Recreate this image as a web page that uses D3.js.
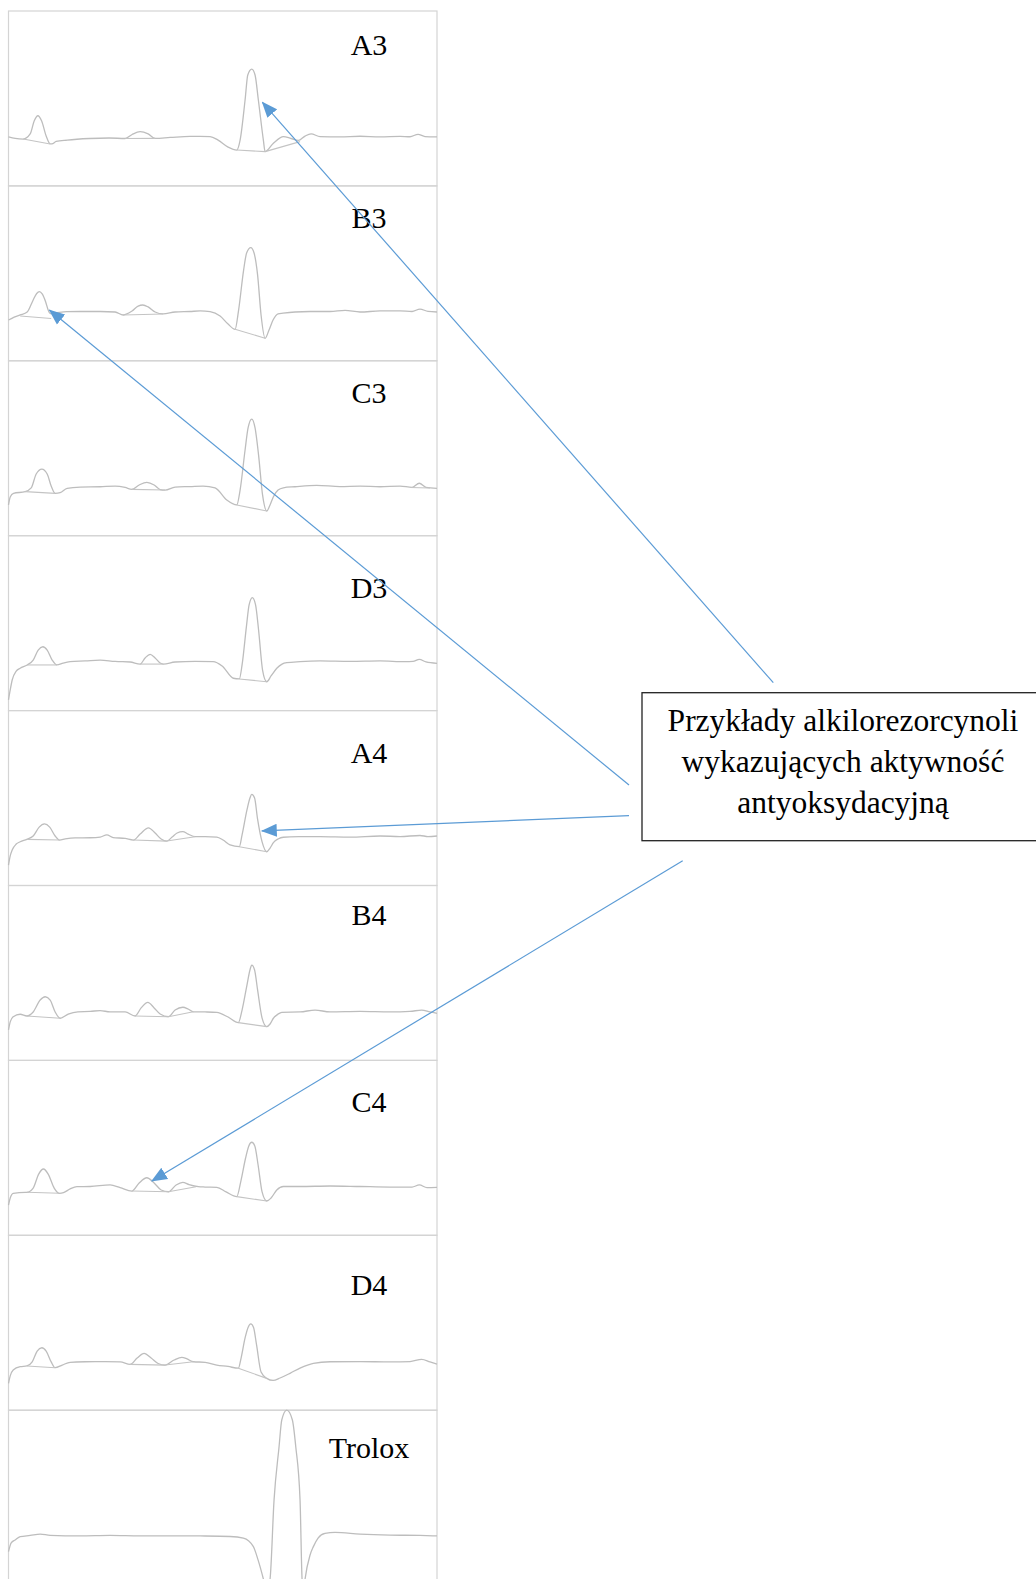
<!DOCTYPE html>
<html>
<head>
<meta charset="utf-8">
<script src="https://cdn.jsdelivr.net/npm/d3@7"></script>
<style>
  body { margin: 0; background: #fff; }
  text { font-family: "Liberation Serif", "Times New Roman", serif; }
</style>
</head>
<body>
<div id="chart"></div>
<script>
// sample names, top to bottom
var panels = ["A3", "B3", "C3", "D3", "A4", "B4", "C4", "D4", "Trolox"];

// traces: [run time (% of run), signal (% of panel scale)]
var traceA3 = [[0,28.1],[1.56,27.2],[3.43,26.8],[5.06,29.7],[5.99,37.1],[6.86,40.1],[7.74,37.1],[8.79,28.5],[9.73,24.0],[10.12,24.0],[11.13,25.4],[13.69,26.2],[18.9,27.1],[23.5,27.4],[27.22,27.1],[28.85,29.4],[30.72,31.0],[32.59,29.7],[34.22,27.2],[37.72,27.7],[42.38,28.3],[47.05,28.2],[48.91,26.2],[51.24,22.2],[53.27,20.5],[54.05,26.2],[55.21,49.1],[55.84,63.4],[56.77,66.8],[57.54,63.4],[58.31,49.1],[59.48,26.2],[59.88,19.6],[61.82,24.4],[64.15,28.2],[65.94,27.1],[67.65,26.0],[69.21,28.5],[70.61,29.7],[72.71,28.2],[77.37,28.0],[82.04,28.4],[86.7,28.0],[91.37,28.3],[93.7,28.1],[95.57,29.5],[97.2,28.2],[100,28.0]];
var traceB3 = [[0,23.3],[1.33,25.0],[2.73,26.2],[4.36,27.9],[5.76,34.8],[6.58,38.5],[7.23,39.5],[7.86,38.2],[8.68,33.6],[9.26,29.0],[9.73,27.0],[10.89,27.3],[13.62,28.1],[16.73,28.2],[21.39,28.2],[24.89,27.9],[26.76,26.2],[28.85,28.5],[30.25,31.3],[31.35,31.9],[32.59,30.8],[34.22,27.9],[36.09,26.8],[38.88,27.9],[42.38,28.2],[44.72,28.5],[47.05,28.1],[49.38,25.6],[51.24,21.0],[52.88,18.0],[53.7,29.0],[54.87,51.9],[55.57,61.6],[56.54,64.7],[57.31,61.6],[58.13,49.1],[58.94,26.2],[59.88,12.9],[60.8,17.6],[61.74,23.3],[62.91,26.8],[64.08,27.2],[66.87,27.9],[70.37,28.2],[75.04,28.2],[78.54,28.8],[82.04,27.9],[86.7,28.5],[91.37,28.5],[94.17,28.2],[96.03,29.6],[97.9,28.2],[100,27.9]];
var traceC3 = [[0,17.6],[0.4,22.1],[1.17,24.2],[3.9,25.2],[5.3,27.3],[6.46,35.3],[7.79,38.1],[9.03,35.3],[9.96,28.4],[10.89,24.2],[12.06,24.6],[13.69,27.1],[16.73,27.8],[21.39,28.0],[24.89,28.4],[27.22,27.6],[28.78,26.5],[30.49,29.0],[32.28,30.5],[33.99,29.0],[35.39,26.4],[36.55,26.1],[38.88,27.8],[42.38,28.1],[45.42,28.4],[48.21,27.3],[50.94,20.4],[53.27,17.6],[54.05,26.1],[55.21,49.0],[55.91,61.6],[56.77,66.7],[57.54,61.6],[58.36,46.1],[59.29,23.3],[60.27,14.1],[61.04,17.6],[61.82,22.3],[62.91,26.1],[64.15,27.4],[66.87,28.0],[71.93,28.8],[77.37,28.1],[82.04,28.4],[86.7,28.0],[91.37,28.4],[94.17,27.6],[95.87,30.0],[97.43,27.6],[100,27.1]];
var traceD3 = [[0,6.1],[0.4,11.8],[0.86,17.5],[1.8,22.6],[2.73,24.2],[4.36,26.1],[5.76,28.9],[6.93,34.6],[8.02,36.5],[9.03,34.6],[10.19,28.9],[11.29,26.1],[12.76,27.2],[14.39,28.0],[17.89,28.4],[21.39,28.9],[24.89,28.1],[28.39,27.8],[30.72,26.6],[31.88,30.1],[33.05,32.2],[34.22,30.1],[35.39,27.2],[36.16,26.6],[38.88,27.8],[43.55,28.1],[47.75,28.0],[49.85,25.5],[52.48,18.5],[53.87,18.1],[54.51,26.1],[55.56,48.9],[56.15,60.4],[56.91,64.6],[57.66,60.4],[58.36,46.1],[59.29,23.2],[60.27,16.5],[61.27,19.8],[62.61,24.2],[63.84,26.6],[64.94,27.4],[68.04,28.0],[72.71,28.4],[79.71,28.1],[86.7,28.4],[92.54,28.0],[94.4,28.1],[95.87,29.3],[97.43,27.8],[100,27.0]];
var traceA4 = [[0,11.7],[0.4,16.9],[0.86,20.3],[1.8,23.7],[2.73,25.0],[4.29,26.4],[5.76,28.3],[7.16,33.4],[8.4,35.2],[9.61,33.4],[10.89,28.3],[11.9,26.0],[13.23,26.6],[15.56,27.2],[19.06,27.3],[21.39,27.7],[22.95,28.9],[24.42,27.4],[27.22,26.9],[29.16,26.0],[30.72,29.4],[32.66,33.0],[34.22,30.0],[35.62,26.6],[36.95,25.4],[38.19,27.7],[39.35,30.0],[40.68,30.8],[41.92,29.4],[43.55,27.9],[45.88,28.0],[48.61,27.7],[50.08,26.0],[51.71,23.2],[53.87,22.2],[54.51,28.9],[55.65,43.2],[56.35,50.0],[56.77,52.1],[57.43,50.0],[58.13,37.9],[59.18,24.9],[60.27,19.3],[61.04,21.4],[61.82,24.5],[62.91,26.6],[64.15,27.6],[68.04,27.9],[72.71,28.0],[79.71,27.7],[86.7,28.3],[91.37,28.0],[96.03,28.6],[97.9,28.0],[100,28.3]];
var traceB4 = [[0,17.4],[0.4,22.0],[1.1,25.0],[2.73,26.4],[4.29,25.4],[5.76,27.7],[7.39,34.5],[8.56,36.4],[9.73,34.5],[10.89,27.7],[12.06,24.1],[13.93,26.5],[16.19,27.8],[19.06,28.0],[21.39,28.5],[23.72,27.7],[27.22,27.7],[29.55,25.4],[30.95,30.0],[32.52,33.2],[33.99,30.0],[35.39,26.5],[37.32,25.0],[38.88,28.8],[40.68,30.4],[41.92,29.4],[43.15,27.8],[45.88,27.7],[48.61,27.4],[51.24,24.8],[53.64,21.6],[54.51,28.8],[55.65,43.1],[56.35,51.7],[56.77,54.5],[57.43,51.7],[58.13,40.3],[59.18,24.2],[60.27,19.3],[61.04,20.8],[61.82,24.1],[62.91,26.5],[63.77,27.5],[68.04,27.7],[71.54,28.8],[75.04,27.7],[82.04,28.0],[89.03,27.7],[93.7,28.0],[96.43,28.8],[98.37,27.7],[100,26.9]];
var traceC4 = [[0,17.3],[0.4,21.3],[1.1,24.0],[3.9,24.6],[4.29,24.6],[5.76,27.0],[7.04,35.0],[8.16,37.9],[9.26,35.0],[10.66,27.0],[11.9,24.0],[12.83,24.4],[14.39,26.5],[15.96,27.8],[19.06,27.9],[23.72,28.8],[26.06,27.3],[28.78,25.3],[30.49,29.9],[32.28,32.9],[33.99,29.9],[35.62,25.9],[37.32,24.9],[39.12,28.8],[40.68,30.3],[42.15,29.0],[44.32,27.8],[45.88,27.6],[48.61,27.4],[50.78,24.8],[53.27,22.1],[54.28,31.6],[55.33,44.2],[56.08,51.1],[56.77,53.2],[57.48,51.1],[58.25,40.2],[59.18,24.8],[60.27,19.6],[61.27,21.3],[62.61,25.9],[64.15,27.9],[68.04,27.9],[75.04,28.2],[82.04,27.9],[89.03,27.6],[94.17,27.6],[95.87,28.8],[97.66,27.3],[100,27.4]];
var traceD4 = [[0,15.4],[0.4,19.6],[1.1,23.0],[2.73,24.9],[4.29,25.3],[5.53,27.6],[6.69,33.8],[7.79,35.7],[8.79,33.8],[9.96,27.6],[10.89,24.3],[12.53,25.8],[14.39,27.4],[17.89,27.7],[22.56,27.8],[26.06,27.6],[28.39,26.2],[30.02,29.8],[31.65,32.5],[33.29,29.8],[34.92,26.7],[36.55,25.8],[38.65,28.7],[40.45,30.2],[41.68,29.3],[43.15,27.7],[45.88,27.4],[48.61,25.8],[51.24,25.0],[53.64,24.0],[54.28,29.8],[55.21,41.3],[55.91,47.3],[56.54,49.3],[57.19,47.3],[57.89,37.3],[58.94,21.8],[60.27,18.2],[61.74,17.0],[63.38,18.4],[65.71,21.1],[68.04,24.1],[71.15,26.8],[75.04,27.7],[82.04,27.8],[89.03,27.6],[93.7,27.8],[96.43,29.1],[98.37,27.6],[100,26.4]];
var traceTrolox = [[0,19.1],[0.63,24.1],[1.56,25.8],[2.73,27.7],[5.06,28.4],[7.39,29.2],[9.73,28.4],[16.73,28.1],[23.72,28.4],[30.72,28.1],[37.72,28.2],[44.72,28.1],[51.71,27.8],[54.82,26.9],[57.15,22.0],[58.24,14.4],[59.48,3.5],[60.23,-4.0],[61.04,3.5],[61.97,48.6],[63.14,79.1],[63.77,94.4],[64.94,100],[66.25,94.4],[67.04,79.1],[68.04,48.6],[68.51,3.5],[68.86,-4.0],[69.21,3.5],[70.38,17.2],[71.15,22.0],[72.24,26.9],[73.87,29.6],[76.21,30.1],[82.04,29.2],[89.03,28.6],[96.03,28.4],[100,28.1]];

// integration baselines drawn under the peaks
var baseA3 = [[[3.43,26.8],[9.73,24.0]], [[27.22,27.1],[34.22,27.2]], [[53.27,20.5],[59.88,19.6]], [[59.88,19.6],[68.04,25.3]]];
var baseB3 = [[[2.73,25.6],[9.96,24.2]], [[26.76,26.2],[36.09,26.8]], [[52.88,18.0],[59.88,12.9]]];
var baseC3 = [[[3.9,25.2],[10.89,24.2]], [[28.78,26.5],[36.55,26.1]], [[53.27,17.6],[60.27,14.1]], [[93.7,27.6],[98.37,27.3]]];
var baseD3 = [[[4.36,26.1],[11.29,26.1]], [[30.72,26.6],[36.16,26.6]], [[53.87,18.1],[60.27,16.5]]];
var baseA4 = [[[4.29,26.4],[11.9,26.0]], [[29.16,26.0],[36.95,25.4]], [[36.95,25.4],[43.55,27.9]], [[53.87,22.2],[60.27,19.3]]];
var baseB4 = [[[4.29,25.4],[12.06,24.1]], [[29.55,25.4],[37.32,25.0]], [[37.32,25.0],[43.15,27.8]], [[53.64,21.6],[60.27,19.3]]];
var baseC4 = [[[4.29,24.6],[11.9,24.0]], [[28.78,25.3],[37.32,24.9]], [[37.32,24.9],[43.78,27.8]], [[53.27,22.1],[60.27,19.6]]];
var baseD4 = [[[4.29,25.3],[10.89,24.3]], [[28.39,26.2],[36.55,25.8]], [[36.55,25.8],[43.15,27.7]], [[53.64,24.0],[60.27,18.2]]];
var baseTrolox = [];

var traces = [traceA3, traceB3, traceC3, traceD3, traceA4, traceB4, traceC4, traceD4, traceTrolox];
var baselines = [baseA3, baseB3, baseC3, baseD3, baseA4, baseB4, baseC4, baseD4, baseTrolox];

// annotation
var noteLines = ["Przykłady alkilorezorcynoli", "wykazujących aktywność", "antyoksydacyjną"];
var noteTargets = [
  { panel: "A3", t: 59.25, v: 47.8 },
  { panel: "B3", t: 9.56, v: 29.0 },
  { panel: "A4", t: 59.11, v: 31.2 },
  { panel: "C4", t: 33.45, v: 31.0 }
];

// layout
var width = 1036, height = 1579;
var plotLeft = 8.5, plotRight = 437, plotTop = 11, panelH = 174.9;
var labelX = 369;
var labelDy = [44, 41.8, 42.5, 62.6, 52, 39.5, 51.3, 59.7, 48.1];
var box = { x: 642, y: 692.7, w: 410, h: 148 };
var noteX = 843;
var arrowFrom = [[773.3, 682.7], [629, 785], [629, 815.7], [682.7, 860.7]];

var x = d3.scaleLinear().domain([0, 100]).range([plotLeft, plotRight]);
var band = d3.scaleBand().domain(panels).range([plotTop, plotTop + panelH * panels.length]);
var y = d3.scaleLinear().domain([0, 100]).range([panelH, 0]);

var svg = d3.select('#chart')
  .append('svg')
  .attr('width', width)
  .attr('height', height);

var line = d3.line()
  .x(function(d) { return x(d[0]); })
  .y(function(d) { return y(d[1]); })
  .curve(d3.curveMonotoneX);

// one group per sample
var panel = svg.selectAll('.panel')
  .data(panels)
  .enter()
  .append('g')
  .attr('class', 'panel')
  .attr('transform', function(d) { return 'translate(0,' + band(d) + ')'; });

panel.append('rect')
  .attr('x', plotLeft)
  .attr('y', 0)
  .attr('width', plotRight - plotLeft)
  .attr('height', band.bandwidth())
  .attr('fill', 'none')
  .attr('stroke', '#d4d4d4')
  .attr('stroke-width', 1.2);

panel.append('path')
  .attr('d', function(d, i) { return line(traces[i]); })
  .attr('fill', 'none')
  .attr('stroke', '#bdbdbd')
  .attr('stroke-width', 1.3);

panel.each(function(d, i) {
  d3.select(this).selectAll('.base')
    .data(baselines[i])
    .enter()
    .append('line')
    .attr('class', 'base')
    .attr('x1', function(s) { return x(s[0][0]); })
    .attr('y1', function(s) { return y(s[0][1]); })
    .attr('x2', function(s) { return x(s[1][0]); })
    .attr('y2', function(s) { return y(s[1][1]); })
    .attr('stroke', '#c4c4c4')
    .attr('stroke-width', 1.1);
});

panel.append('text')
  .attr('x', labelX)
  .attr('y', function(d, i) { return labelDy[i]; })
  .attr('text-anchor', 'middle')
  .attr('font-size', 30)
  .attr('fill', '#000')
  .text(function(d) { return d; });

// note box
svg.append('rect')
  .attr('x', box.x)
  .attr('y', box.y)
  .attr('width', box.w)
  .attr('height', box.h)
  .attr('fill', '#fff')
  .attr('stroke', '#222')
  .attr('stroke-width', 1.3);

svg.append('text')
  .attr('x', noteX)
  .attr('y', box.y + 38)
  .attr('text-anchor', 'middle')
  .attr('font-size', 31.5)
  .attr('fill', '#000')
  .selectAll('tspan')
  .data(noteLines)
  .enter()
  .append('tspan')
  .attr('x', noteX)
  .attr('dy', function(d, i) { return i === 0 ? 0 : 41; })
  .text(function(d) { return d; });

// arrows
svg.append('defs').append('marker')
  .attr('id', 'head')
  .attr('markerUnits', 'userSpaceOnUse')
  .attr('viewBox', '0 -7 16 14')
  .attr('refX', 15)
  .attr('refY', 0)
  .attr('markerWidth', 16)
  .attr('markerHeight', 14)
  .attr('orient', 'auto')
  .append('path')
  .attr('d', 'M0,-6.5L16,0L0,6.5Z')
  .attr('fill', '#5b9bd5');

svg.selectAll('.arrow')
  .data(noteTargets)
  .enter()
  .append('line')
  .attr('class', 'arrow')
  .attr('x1', function(d, i) { return arrowFrom[i][0]; })
  .attr('y1', function(d, i) { return arrowFrom[i][1]; })
  .attr('x2', function(d) { return x(d.t); })
  .attr('y2', function(d) { return band(d.panel) + y(d.v); })
  .attr('stroke', '#5b9bd5')
  .attr('stroke-width', 1.2)
  .attr('marker-end', 'url(#head)');
</script>
</body>
</html>
